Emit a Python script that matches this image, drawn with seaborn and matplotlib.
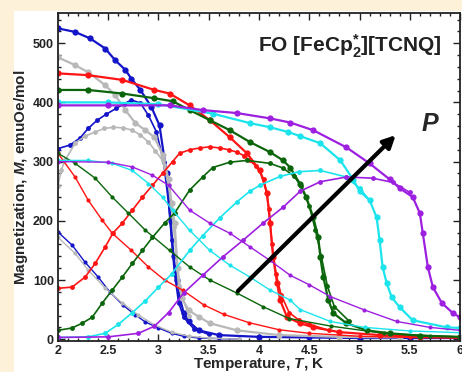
import seaborn as sns
import matplotlib.pyplot as plt
from matplotlib.patches import Rectangle

# blue (lowest pressure)
blue_fc_t = [2.0, 2.17, 2.32, 2.47, 2.57, 2.67, 2.73, 2.82, 2.93, 3.01, 3.08, 3.12, 3.15, 3.18, 3.21, 3.25, 3.3, 3.4, 3.6, 4.0, 4.5, 5.0, 5.5, 6.0]
blue_fc_m = [525, 519, 508, 491, 471, 455, 440, 421, 392, 361, 280, 200, 140, 100, 71, 45, 30, 15, 7, 4, 3, 2, 2, 2]
blue_zfc_t = [2.0, 2.12, 2.22, 2.3, 2.39, 2.48, 2.58, 2.66, 2.73, 2.82, 2.9, 2.98, 3.05, 3.1, 3.13, 3.16, 3.2, 3.25, 3.35, 3.5]
blue_zfc_m = [322, 328, 340, 356, 370, 380, 390, 398, 404, 399, 378, 350, 300, 230, 167, 110, 62, 37, 18, 8]
blue_rem_t = [2.0, 2.14, 2.27, 2.4, 2.52, 2.65, 2.77, 2.87, 3.0, 3.13, 3.25, 3.4, 3.6, 3.8]
blue_rem_m = [181, 159, 130, 105, 79, 57, 41, 29, 19, 10, 5, 2, 1, 0]

# gray
gray_fc_t = [2.0, 2.17, 2.3, 2.47, 2.57, 2.67, 2.77, 2.87, 2.96, 3.04, 3.1, 3.13, 3.16, 3.19, 3.23, 3.3, 3.4, 3.51, 3.78, 4.2, 4.8, 5.4]
gray_fc_m = [476, 463, 451, 429, 412, 387, 365, 353, 341, 312, 270, 230, 196, 120, 70, 49, 38, 27, 15, 7, 4, 3]
gray_zfc_t = [2.0, 2.03, 2.07, 2.17, 2.27, 2.37, 2.46, 2.55, 2.65, 2.74, 2.82, 2.9, 2.97, 3.04, 3.1, 3.15, 3.2, 3.3]
gray_zfc_m = [258, 285, 302, 331, 343, 350, 356, 358, 357, 353, 345, 333, 318, 302, 260, 190, 90, 40]
gray_rem_t = [2.0, 2.17, 2.3, 2.47, 2.64, 2.8, 2.96, 3.13, 3.3, 3.5, 3.8]
gray_rem_m = [172, 145, 117, 86, 61, 41, 24, 12, 5, 2, 0]

# red
red_fc_t = [2.0, 2.3, 2.64, 2.96, 3.11, 3.31, 3.51, 3.71, 3.88, 4.01, 4.08, 4.11, 4.14, 4.18, 4.21, 4.28, 4.41, 4.54, 4.8, 5.2, 5.6, 6.0]
red_fc_m = [449, 446, 438, 421, 415, 395, 370, 341, 314, 285, 247, 196, 139, 95, 66, 37, 27, 20, 12, 7, 4, 3]
red_zfc_t = [2.0, 2.14, 2.27, 2.37, 2.47, 2.55, 2.64, 2.74, 2.84, 2.94, 3.04, 3.14, 3.21, 3.31, 3.41, 3.51, 3.61, 3.7, 3.78, 3.85, 3.91, 3.97, 4.05, 4.1, 4.13, 4.17, 4.22, 4.3, 4.4, 4.5, 4.7]
red_zfc_m = [86, 88, 105, 128, 156, 180, 196, 218, 240, 260, 280, 300, 314, 320, 323, 325, 323, 320, 316, 310, 302, 292, 270, 220, 160, 110, 75, 45, 32, 25, 15]
red_rem_t = [2.0, 2.17, 2.3, 2.44, 2.54, 2.73, 2.9, 3.06, 3.24, 3.45, 3.65, 3.9, 4.2, 4.5, 5.0, 5.5, 6.0]
red_rem_m = [314, 274, 235, 201, 179, 150, 122, 100, 83, 58, 42, 28, 16, 10, 5, 3, 2]

# green
green_fc_t = [2.0, 2.3, 2.64, 2.96, 3.14, 3.31, 3.51, 3.71, 3.91, 4.11, 4.24, 4.31, 4.41, 4.47, 4.54, 4.59, 4.61, 4.64, 4.69, 4.74, 4.87, 5.07, 5.3, 5.6, 6.0]
green_fc_m = [421, 421, 415, 407, 402, 387, 370, 353, 333, 316, 302, 290, 262, 240, 206, 172, 139, 105, 66, 44, 27, 15, 10, 6, 4]
green_zfc_t = [2.0, 2.14, 2.24, 2.34, 2.44, 2.54, 2.64, 2.74, 2.84, 2.94, 3.06, 3.16, 3.31, 3.44, 3.54, 3.71, 3.88, 4.11, 4.24, 4.35, 4.42, 4.5, 4.56, 4.62, 4.68, 4.75, 4.9]
green_zfc_m = [15, 19, 27, 37, 61, 83, 105, 128, 150, 172, 196, 213, 252, 274, 290, 299, 302, 297, 289, 275, 258, 225, 185, 140, 90, 55, 30]
green_rem_t = [2.0, 2.17, 2.37, 2.54, 2.7, 2.87, 3.11, 3.31, 3.51, 3.78, 4.04, 4.3, 4.72, 5.24, 5.7, 6.0]
green_rem_m = [314, 297, 272, 240, 213, 184, 150, 122, 100, 78, 55, 35, 22, 10, 6, 4]

# cyan
cyan_fc_t = [2.0, 2.5, 3.0, 3.54, 3.91, 4.11, 4.29, 4.41, 4.61, 4.81, 4.94, 5.0, 5.1, 5.17, 5.2, 5.23, 5.27, 5.32, 5.4, 5.53, 5.87, 6.0]
cyan_fc_m = [400, 400, 397, 381, 365, 358, 350, 343, 331, 302, 269, 250, 235, 206, 167, 122, 95, 71, 54, 32, 20, 19]
cyan_zfc_t = [2.0, 2.3, 2.47, 2.6, 2.74, 2.87, 3.0, 3.13, 3.31, 3.44, 3.61, 3.78, 3.91, 4.01, 4.21, 4.4, 4.61, 4.87, 5.0, 5.1]
cyan_zfc_m = [3, 4, 10, 25, 45, 65, 88, 110, 150, 175, 205, 232, 250, 260, 275, 283, 285, 274, 255, 235]
cyan_rem_t = [2.0, 2.3, 2.54, 2.74, 2.9, 3.04, 3.14, 3.31, 3.51, 3.71, 3.91, 4.11, 4.31, 4.41, 4.71, 5.05, 5.5, 6.0]
cyan_rem_m = [302, 302, 297, 285, 263, 240, 218, 184, 150, 125, 105, 83, 66, 50, 30, 20, 14, 11]

# purple (highest pressure)
purple_fc_t = [2.0, 2.5, 3.11, 3.44, 3.78, 4.11, 4.31, 4.54, 4.87, 5.1, 5.3, 5.4, 5.53, 5.6, 5.63, 5.68, 5.73, 5.82, 5.93, 6.0]
purple_fc_m = [395, 395, 395, 387, 382, 373, 366, 353, 324, 297, 270, 255, 240, 213, 179, 122, 88, 61, 44, 37]
purple_zfc_t = [2.0, 2.5, 2.8, 2.96, 3.1, 3.25, 3.44, 3.64, 3.84, 4.04, 4.24, 4.41, 4.61, 4.87, 5.13, 5.33, 5.5]
purple_zfc_m = [3, 4, 10, 22, 45, 78, 108, 139, 167, 196, 223, 250, 266, 274, 272, 265, 248]
purple_rem_t = [2.0, 2.5, 2.74, 2.94, 3.1, 3.31, 3.51, 3.71, 3.91, 4.11, 4.31, 4.5, 4.71, 5.04, 5.37, 5.7, 6.0]
purple_rem_m = [300, 299, 291, 277, 260, 218, 196, 179, 156, 133, 108, 92, 72, 50, 30, 20, 15]

colors = {"blue": "#1414c8", "gray": "#b8b8b8", "red": "#ff1414",
          "green": "#0b650b", "cyan": "#1ce4ec", "purple": "#9d1fe0"}

sns.set_style("ticks")
plt.rcParams["font.family"] = ["Liberation Sans", "DejaVu Sans"]
plt.rcParams["font.weight"] = "bold"
plt.rcParams["mathtext.fontset"] = "custom"
plt.rcParams["mathtext.rm"] = "Liberation Sans:bold"
plt.rcParams["mathtext.bf"] = "Liberation Sans:bold"
plt.rcParams["mathtext.it"] = "Liberation Sans:bold:italic"

fig = plt.figure(figsize=(4.62, 3.72), dpi=100)
fig.patch.set_facecolor("#fdf2d9")
fig.add_artist(Rectangle((14 / 462, 0), 1, 361 / 372, transform=fig.transFigure,
                         facecolor="white", edgecolor="none", zorder=0))
ax = fig.add_axes([58 / 462, 31 / 372, 402 / 462, 328 / 372])
ax.set_facecolor("white")

curves = [
    ("blue", blue_fc_t, blue_fc_m, blue_zfc_t, blue_zfc_m, blue_rem_t, blue_rem_m),
    ("gray", gray_fc_t, gray_fc_m, gray_zfc_t, gray_zfc_m, gray_rem_t, gray_rem_m),
    ("red", red_fc_t, red_fc_m, red_zfc_t, red_zfc_m, red_rem_t, red_rem_m),
    ("green", green_fc_t, green_fc_m, green_zfc_t, green_zfc_m, green_rem_t, green_rem_m),
    ("cyan", cyan_fc_t, cyan_fc_m, cyan_zfc_t, cyan_zfc_m, cyan_rem_t, cyan_rem_m),
    ("purple", purple_fc_t, purple_fc_m, purple_zfc_t, purple_zfc_m, purple_rem_t, purple_rem_m),
]

for name, ft, fm, zt, zm, rt, rm in curves:
    c = colors[name]
    sns.lineplot(x=rt, y=rm, ax=ax, color=c, lw=1.0, marker="o", markersize=3,
                 markeredgewidth=0, sort=False, estimator=None)
    sns.lineplot(x=zt, y=zm, ax=ax, color=c, lw=1.2, marker="o", markersize=3.5,
                 markeredgewidth=0, sort=False, estimator=None)
    sns.lineplot(x=ft, y=fm, ax=ax, color=c, lw=1.6, marker="o", markersize=4.5,
                 markeredgewidth=0, sort=False, estimator=None)

ax.set_xlim(2, 6)
ax.set_ylim(-3, 551)
ax.set_xticks([2, 2.5, 3, 3.5, 4, 4.5, 5, 5.5, 6])
ax.set_xticklabels(["2", "2.5", "3", "3.5", "4", "4.5", "5", "5.5", "6"])
ax.set_yticks([0, 100, 200, 300, 400, 500])
ax.set_xticks([2 + 0.1 * i for i in range(41)], minor=True)
ax.set_yticks(list(range(0, 551, 20)), minor=True)
ax.tick_params(which="both", direction="in", top=True, right=True, width=1,
               labelsize=9, colors="#222222")
ax.tick_params(which="major", length=5, pad=3)
ax.tick_params(which="minor", length=2.5)
for s in ax.spines.values():
    s.set_linewidth(1.3)
    s.set_color("#222222")

ax.set_xlabel(r"Temperature, $\it{T}$, K", fontsize=11, fontweight="bold", labelpad=-1)
ax.set_ylabel(r"Magnetization, $\it{M}$, emuOe/mol", fontsize=11, fontweight="bold", labelpad=2)

ax.text(0.4975, 0.88, r"FO [FeCp$^{*}_{2}$][TCNQ]", transform=ax.transAxes,
        fontsize=15, fontweight="bold", ha="left", va="baseline", color="#222222")
ax.annotate("", xy=(5.38, 348), xytext=(3.77, 78),
            arrowprops=dict(arrowstyle="-|>", lw=3, color="black", mutation_scale=18))
ax.text(5.70, 364, "P", fontsize=18, fontweight="bold", fontstyle="italic",
        ha="center", va="center")

fig.savefig("out.png", dpi=100)
